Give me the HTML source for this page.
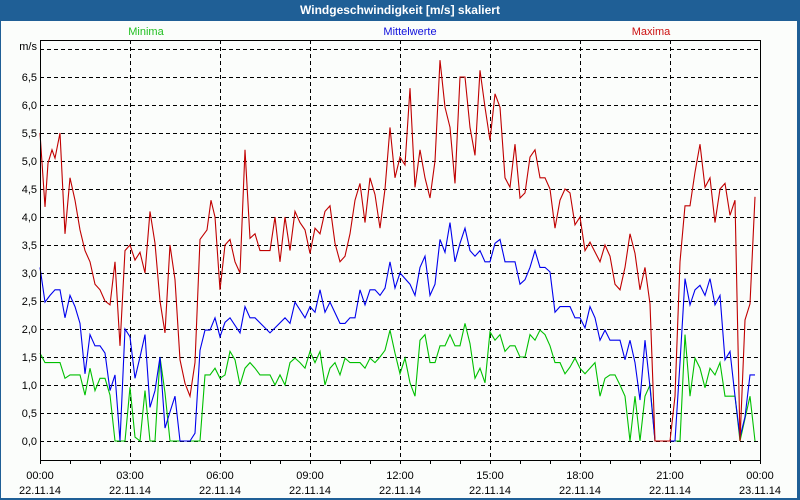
<!DOCTYPE html>
<html><head><meta charset="utf-8"><style>
body{margin:0;width:800px;height:500px;overflow:hidden;background:#fff;font-family:"Liberation Sans",sans-serif}
#wrap{position:absolute;left:0;top:0;width:800px;height:500px;background:#1f5f96}
#inner{position:absolute;left:1px;top:21px;width:796px;height:477px;background:#fbfdfb}
#title{position:absolute;left:0;top:0;width:800px;height:21px;line-height:21px;text-align:center;color:#fff;font-weight:bold;font-size:12px}
svg{position:absolute;left:0;top:0}
text{font-family:"Liberation Sans",sans-serif;font-size:11px}
</style></head><body>
<div id="wrap">
<div id="title">Windgeschwindigkeit [m/s] skaliert</div>
<div id="inner"></div>
</div>
<svg id="chart" width="800" height="500"></svg>
<script>
const yTicks=[0,0.5,1,1.5,2,2.5,3,3.5,4,4.5,5,5.5,6,6.5];
const yTickLabels=["0,0","0,5","1,0","1,5","2,0","2,5","3,0","3,5","4,0","4,5","5,0","5,5","6,0","6,5"];
const xTickHours=[0,3,6,9,12,15,18,21,24];
const xTimeLabels=["00:00","03:00","06:00","09:00","12:00","15:00","18:00","21:00","00:00"];
const xDateLabels=["22.11.14","22.11.14","22.11.14","22.11.14","22.11.14","22.11.14","22.11.14","22.11.14","23.11.14"];

const maxT=[0,10,16,24,30,40,50,60,70,80,90,100,110,120,130,140,150,160,170,180,190,200,210,220,230,240,250,260,270,280,290,300,310,320,334,342,350,360,370,380,390,400,410,420,430,440,460,470,480,490,500,510,520,530,540,550,560,570,580,590,600,610,620,630,640,650,660,670,680,690,700,710,720,730,740,750,760,770,780,790,800,810,820,830,840,850,860,870,880,890,900,910,920,930,940,950,960,970,980,990,1000,1010,1020,1030,1040,1050,1060,1070,1080,1090,1100,1120,1130,1140,1150,1160,1170,1180,1190,1200,1210,1220,1230,1260,1270,1280,1290,1300,1310,1320,1330,1340,1350,1360,1370,1380,1390,1400,1410,1420,1430];
const maxV=[5.5,4.18,4.96,5.2,5.05,5.5,3.7,4.7,4.3,3.77,3.4,3.2,2.8,2.7,2.5,2.43,3.2,1.7,3.4,3.5,3.23,3.37,3.0,4.1,3.53,2.5,1.93,3.5,2.88,1.45,1.03,0.8,1.4,3.6,3.77,4.3,4.0,2.7,3.5,3.6,3.2,3.0,5.2,3.62,3.7,3.4,3.4,4.0,3.2,4.0,3.4,4.1,3.9,3.77,3.35,3.8,3.7,4.1,4.2,3.53,3.2,3.3,3.7,4.3,4.6,3.9,4.7,4.4,3.8,4.5,5.6,4.7,5.07,4.93,6.3,4.53,5.2,4.7,4.34,5.0,6.8,5.96,5.6,4.6,6.5,6.5,5.6,5.1,6.62,5.96,5.37,6.2,5.96,4.7,4.53,5.3,4.34,4.43,5.07,5.2,4.7,4.7,4.5,3.8,4.3,4.5,4.43,3.86,4.0,3.4,3.55,3.2,3.5,3.3,2.8,2.7,3.1,3.7,3.35,2.7,3.1,2.45,0,0,0.8,3.2,4.2,4.2,4.8,5.3,4.53,4.7,3.9,4.5,4.6,4.03,4.3,0,2.16,2.45,4.36];

const meanT=[0,10,20,30,40,50,60,70,80,90,100,110,120,130,140,150,160,170,180,190,200,210,220,230,240,250,260,270,280,290,300,310,320,330,340,350,360,370,380,400,410,420,430,460,490,500,510,530,540,550,560,570,580,600,610,620,630,640,650,660,670,680,690,700,710,720,740,750,760,770,780,790,800,810,820,830,840,850,860,870,880,890,900,910,920,930,950,960,970,980,990,1000,1010,1020,1030,1040,1060,1070,1080,1090,1100,1110,1120,1130,1140,1160,1170,1180,1190,1200,1210,1220,1230,1270,1280,1290,1300,1310,1320,1330,1340,1350,1360,1370,1380,1390,1400,1410,1420,1430];
const meanV=[3.1,2.48,2.6,2.7,2.7,2.2,2.6,2.4,2.1,1.2,1.9,1.7,1.7,1.57,0.9,1.18,0,2.0,1.86,1.12,1.5,1.9,0.6,0.9,1.5,0.23,0.52,0.8,0,0,0,0.14,1.62,1.98,1.98,2.2,1.86,2.12,2.2,1.93,2.4,2.2,2.2,1.93,2.2,2.1,2.48,2.2,2.4,2.3,2.7,2.3,2.48,2.1,2.1,2.2,2.2,2.7,2.43,2.7,2.7,2.6,2.73,3.2,2.73,3.0,2.8,2.6,3.1,3.3,2.6,2.8,3.6,3.37,3.9,3.2,3.53,3.8,3.4,3.3,3.4,3.2,3.2,3.53,3.6,3.2,3.2,2.8,2.88,3.1,3.4,3.1,3.1,3.02,2.3,2.4,2.4,2.2,2.2,2.02,2.4,2.2,1.8,1.98,1.8,1.8,1.45,1.8,1.4,0.73,1.8,0.96,0,0,1.4,2.9,2.43,2.7,2.78,2.6,2.9,2.43,2.6,1.45,1.6,0.8,0.07,0.43,1.18,1.18];

const minT=[0,10,40,50,60,80,90,100,110,120,130,140,150,170,180,190,200,210,220,230,240,250,260,320,330,340,350,360,370,380,390,400,410,420,430,440,460,470,480,490,500,510,520,530,540,550,560,570,580,590,600,610,620,640,650,660,670,680,690,700,710,720,730,740,750,760,770,780,790,800,810,820,830,840,850,860,870,880,890,900,910,920,930,940,950,960,970,980,990,1000,1010,1020,1030,1040,1050,1060,1070,1080,1090,1110,1120,1130,1140,1150,1160,1170,1180,1190,1200,1210,1220,1230,1280,1290,1300,1310,1320,1330,1340,1350,1360,1370,1390,1400,1420,1430];
const minV=[1.57,1.4,1.4,1.12,1.18,1.18,0.82,1.3,0.9,1.12,1.12,0.82,0,0,0.96,0.07,0,0.9,0,0,1.5,0.86,0,0,1.18,1.18,1.3,1.12,1.18,1.6,1.45,1.0,1.3,1.4,1.3,1.18,1.18,1.0,1.18,1.0,1.4,1.48,1.4,1.3,1.6,1.4,1.6,1.0,1.3,1.4,1.18,1.48,1.4,1.4,1.3,1.48,1.4,1.5,1.62,1.98,1.57,1.2,1.48,1.04,0.8,1.8,1.9,1.4,1.4,1.7,1.7,1.9,1.7,1.7,2.1,1.74,1.12,1.3,1.04,1.95,1.8,1.9,1.6,1.7,1.7,1.5,1.5,1.9,1.8,1.98,1.9,1.7,1.4,1.4,1.2,1.32,1.48,1.3,1.2,1.4,0.8,1.12,1.18,1.18,1.0,0.8,0,0.8,0,0.8,1.0,0,0,1.9,0.8,1.48,1.3,0.95,1.3,1.18,1.4,0.8,0.8,0,0.8,0];

const svg=document.getElementById('chart');
const NS='http://www.w3.org/2000/svg';
const L=40,R=760,T=40,B=460;
function xScale(min){return L+min*(R-L)/1440;}
function yScale(v){return 441-56*v;}
function mk(tag,attrs,parent){const e=document.createElementNS(NS,tag);for(const k in attrs)e.setAttribute(k,attrs[k]);(parent||svg).appendChild(e);return e;}

// horizontal grid
const gridY=yTicks.concat([7]);
gridY.forEach(v=>{
  const g=mk('line',{x1:L,x2:R,y1:Math.round(yScale(v))+0.5,y2:Math.round(yScale(v))+0.5,stroke:'#000','stroke-dasharray':'4,3','stroke-width':1});
  
  
});
// vertical grid
xTickHours.forEach(h=>{
  if(h===0||h===24)return;
  const x=Math.round(xScale(h*60))+0.5;
  const g=mk('line',{x1:x,x2:x,y1:T,y2:B,stroke:'#000','stroke-dasharray':'4,3','stroke-width':1});
  
  
});
// y labels
yTicks.forEach((v,i)=>{
  const t=mk('text',{x:37,y:yScale(v)+4,'text-anchor':'end',fill:'#000'});
  t.textContent=yTickLabels[i];
  
  
});
const unit=mk('text',{x:37,y:yScale(7)+1,'text-anchor':'end',fill:'#000'});
unit.textContent='m/s';


// hourly ticks
for(let h=0;h<=24;h++){
  const x=Math.round(xScale(h*60))+0.5;
  const tk=mk('line',{x1:x,x2:x,y1:B,y2:B+4,stroke:'#000'});
  
  
}
xTickHours.forEach((h,i)=>{
  const x=xScale(h*60);
  const t1=mk('text',{x:x,y:479,'text-anchor':'middle',fill:'#000'});
  t1.textContent=xTimeLabels[i];
  
  
  const t2=mk('text',{x:x,y:494,'text-anchor':'middle',fill:'#000'});
  t2.textContent=xDateLabels[i];
  
  
});
// series
function series(ts,vs,color,name){
  const pts=ts.map((t,i)=>xScale(t).toFixed(1)+','+yScale(vs[i]).toFixed(1)).join(' ');
  const p=mk('polyline',{points:pts,fill:'none',stroke:color,'stroke-width':1.1});
  
  
}
series(minT,minV,'#00c000','series-minima');
series(meanT,meanV,'#0000ee','series-mittelwerte');
series(maxT,maxV,'#c00000','series-maxima');
// plot box
const box=mk('rect',{x:L+0.5,y:T+0.5,width:R-L,height:B-T,fill:'none',stroke:'#000','stroke-width':1});


// legend
[['Minima',146,'#22c022','legend-minima'],['Mittelwerte',410,'#1010dd','legend-mittelwerte'],['Maxima',651,'#cc1010','legend-maxima']].forEach(a=>{
  const t=mk('text',{x:a[1],y:35,'text-anchor':'middle',fill:a[2]});
  t.textContent=a[0];
  
  
});
</script>
</body></html>
